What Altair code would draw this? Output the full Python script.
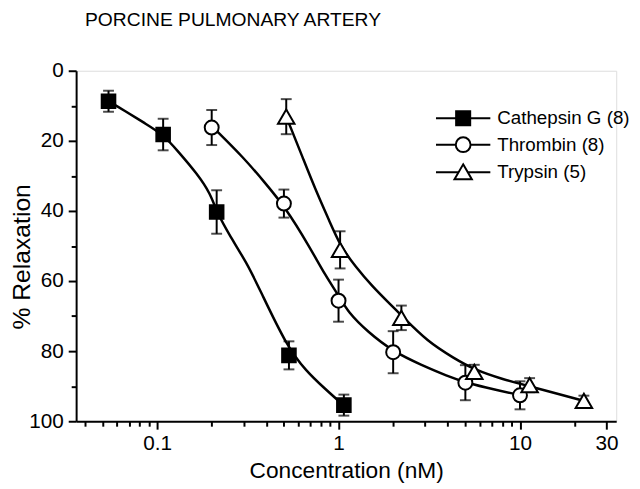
import altair as alt
import pandas as pd

FONT = "Liberation Sans"

series_names = ["Cathepsin G (8)", "Thrombin (8)", "Trypsin (5)"]

# mean points (concentration nM, % relaxation, SEM)
cat_conc = [0.054, 0.108, 0.213, 0.533, 1.07]
cat_mean = [8.7, 18.2, 40.3, 81.2, 95.4]
cat_sem = [3.0, 4.5, 6.2, 4.0, 3.0]

thr_conc = [0.2, 0.5, 1.0, 2.0, 5.0, 10.0]
thr_mean = [16.2, 37.9, 65.6, 80.3, 89.0, 92.6]
thr_sem = [5.0, 4.0, 6.0, 6.0, 5.0, 4.0]

try_conc = [0.515, 1.02, 2.22, 5.6, 11.3, 22.5]
try_mean = [13.1, 51.1, 70.5, 85.9, 89.7, 94.2]
try_sem = [5.0, 5.3, 3.5, 2.0, 2.0, 1.5]

# fitted curves
cat_fit_x = [0.054, 0.0668, 0.0857, 0.108, 0.130, 0.167, 0.197, 0.213, 0.253, 0.312, 0.369, 0.515, 0.662, 0.850, 1.0, 1.07]
cat_fit_y = [8.7, 11.5, 15.0, 18.2, 22.9, 29.5, 35.1, 40.3, 47.3, 54.8, 62.5, 78.3, 85.7, 90.9, 94.2, 95.4]

thr_fit_x = [0.204, 0.300, 0.385, 0.51, 0.690, 0.850, 1.004, 1.128, 1.448, 2.023, 2.85, 3.977, 5.07, 7.135, 10.16]
thr_fit_y = [16.2, 24.8, 31.4, 39.0, 50.1, 58.6, 64.2, 68.9, 74.5, 80.3, 83.9, 87.1, 89.0, 90.9, 92.6]

try_fit_x = [0.515, 0.537, 0.635, 0.75, 0.886, 1.025, 1.237, 1.525, 1.958, 2.22, 3.096, 4.324, 5.603, 8.08, 11.29, 16.44, 22.47]
try_fit_y = [13.1, 15.4, 24.8, 34.2, 42.6, 50.1, 55.8, 61.4, 67.0, 69.8, 77.3, 82.0, 85.3, 88.1, 90.0, 92.3, 94.2]

x_major = [0.1, 1, 10, 30]
x_minor = [0.04, 0.05, 0.06, 0.07, 0.08, 0.09, 0.2, 0.3, 0.4, 0.5, 0.6, 0.7, 0.8, 0.9,
           2, 3, 4, 5, 6, 7, 8, 9, 20]
y_major = [0, 20, 40, 60, 80, 100]
y_minor = [10, 30, 50, 70, 90]

rows = []
for name, xs, ms, es in [(series_names[0], cat_conc, cat_mean, cat_sem),
                         (series_names[1], thr_conc, thr_mean, thr_sem),
                         (series_names[2], try_conc, try_mean, try_sem)]:
    for x, m, e in zip(xs, ms, es):
        rows.append({"series": name, "conc": x, "resp": m, "lo": m - e, "hi": m + e})
pts = pd.DataFrame(rows)

frows = []
for name, xs, ys in [(series_names[0], cat_fit_x, cat_fit_y),
                     (series_names[1], thr_fit_x, thr_fit_y),
                     (series_names[2], try_fit_x, try_fit_y)]:
    for i, (x, y) in enumerate(zip(xs, ys)):
        frows.append({"series": name, "conc": x, "resp": y, "i": i})
fit = pd.DataFrame(frows)

xscale = alt.Scale(type="log", domain=[0.0358, 33.9], nice=False)
yscale = alt.Scale(domain=[0, 100], reverse=True, nice=False, zero=False)

x_main_axis = alt.Axis(values=x_major, format="~g", orient="bottom", tickSize=8, tickWidth=2,
                       domainWidth=2, domainColor="black", tickColor="black", grid=False,
                       labelFont=FONT, labelFontSize=21, labelColor="black", labelPadding=4,
                       labelFlush=False, labelOverlap=False,
                       title="Concentration (nM)", titleFont=FONT, titleFontSize=23,
                       titleFontWeight="normal", titleColor="black",
                       titleBaseline="alphabetic", titleY=57)
y_main_axis = alt.Axis(values=y_major, orient="left", tickSize=8, tickWidth=2,
                       domainWidth=2, domainColor="black", tickColor="black", grid=False,
                       labelFont=FONT, labelFontSize=21, labelColor="black", labelPadding=5,
                       title="% Relaxation", titleFont=FONT, titleFontSize=25,
                       titleFontWeight="normal", titleColor="black",
                       titleBaseline="alphabetic", titleX=-47, titleY=188)
x_minor_axis = alt.Axis(values=x_minor, orient="bottom", tickSize=5, tickWidth=2, tickColor="black",
                        labels=False, domain=False, grid=False, title=None)
y_minor_axis = alt.Axis(values=y_minor, orient="left", tickSize=5, tickWidth=2, tickColor="black",
                        labels=False, domain=False, grid=False, title=None)

base = alt.Chart(pts)

axes_main = base.mark_point(opacity=0).encode(
    x=alt.X("conc:Q", scale=xscale, axis=x_main_axis),
    y=alt.Y("resp:Q", scale=yscale, axis=y_main_axis),
)
axes_minor = base.mark_point(opacity=0).encode(
    x=alt.X("conc:Q", scale=xscale, axis=x_minor_axis),
    y=alt.Y("resp:Q", scale=yscale, axis=y_minor_axis),
)

err = base.mark_rule(color="black", strokeWidth=2).encode(
    x=alt.X("conc:Q", scale=xscale, axis=None),
    y=alt.Y("lo:Q", scale=yscale, axis=None),
    y2="hi:Q",
)
cap_lo = base.mark_tick(color="black", orient="horizontal", size=11, thickness=2).encode(
    x=alt.X("conc:Q", scale=xscale, axis=None),
    y=alt.Y("lo:Q", scale=yscale, axis=None),
)
cap_hi = base.mark_tick(color="black", orient="horizontal", size=11, thickness=2).encode(
    x=alt.X("conc:Q", scale=xscale, axis=None),
    y=alt.Y("hi:Q", scale=yscale, axis=None),
)

lines = alt.Chart(fit).mark_line(color="black", strokeWidth=2.5, interpolate="basis").encode(
    x=alt.X("conc:Q", scale=xscale, axis=None),
    y=alt.Y("resp:Q", scale=yscale, axis=None),
    detail="series:N",
    order="i:Q",
)

def markers(name, shape, fill, size):
    return base.transform_filter(alt.datum.series == name).mark_point(
        shape=shape, filled=True, fill=fill, stroke="black", strokeWidth=2, size=size, opacity=1
    ).encode(
        x=alt.X("conc:Q", scale=xscale, axis=None),
        y=alt.Y("resp:Q", scale=yscale, axis=None),
    )

m1 = markers(series_names[0], "square", "black", 190)
m2 = markers(series_names[1], "circle", "white", 200)
m3 = markers(series_names[2], "triangle-up", "white", 280)

sq_path = "M-3.67,0L-0.95,0M0.95,0L3.67,0M-0.95,-0.95L0.95,-0.95L0.95,0.95L-0.95,0.95Z"
ci_path = "M-3.67,0L-1,0M1,0L3.67,0M-1,0A1,1,0,1,1,1,0A1,1,0,1,1,-1,0Z"
tr_path = "M-3.67,0L-0.61,0M0.61,0L3.67,0M0,-1.05L1.17,0.95L-1.17,0.95Z"

leg = dict(title=None, orient="none", legendX=382.5, legendY=38.6,
           symbolSize=225, symbolStrokeWidth=2, symbolStrokeColor="black",
           symbolOpacity=1, labelFont=FONT, labelFontSize=19,
           labelColor="black", labelOffset=25, rowPadding=3.8, padding=0)

legend_layer = base.mark_point(filled=True, opacity=0, strokeWidth=2).encode(
    x=alt.X("conc:Q", scale=xscale, axis=None),
    y=alt.Y("resp:Q", scale=yscale, axis=None),
    shape=alt.Shape("series:N", sort=series_names,
                    scale=alt.Scale(domain=series_names, range=[sq_path, ci_path, tr_path]),
                    legend=alt.Legend(**leg)),
    fill=alt.Fill("series:N", sort=series_names,
                  scale=alt.Scale(domain=series_names, range=["black", "white", "white"]),
                  legend=alt.Legend(**leg)),
    stroke=alt.Stroke("series:N", sort=series_names,
                      scale=alt.Scale(domain=series_names, range=["black", "black", "black"]),
                      legend=alt.Legend(**leg)),
)

chart = alt.layer(
    axes_main, axes_minor, err, cap_lo, cap_hi, lines, m1, m2, m3, legend_layer
).resolve_axis(x="independent", y="independent").properties(
    width=547, height=355,
    padding={"left": 69, "top": 60.5, "right": 16, "bottom": 60},
    autosize=alt.AutoSizeParams(type="none"),
    title=alt.TitleParams("PORCINE PULMONARY ARTERY", anchor="start", frame="group", dx=9,
                          fontSize=19.5, font=FONT, fontWeight="normal", color="black",
                          baseline="alphabetic", offset=15),
).configure_view(stroke=None).configure(background="white")

chart.save("out.html", embed_options={"renderer": "svg", "actions": False})
